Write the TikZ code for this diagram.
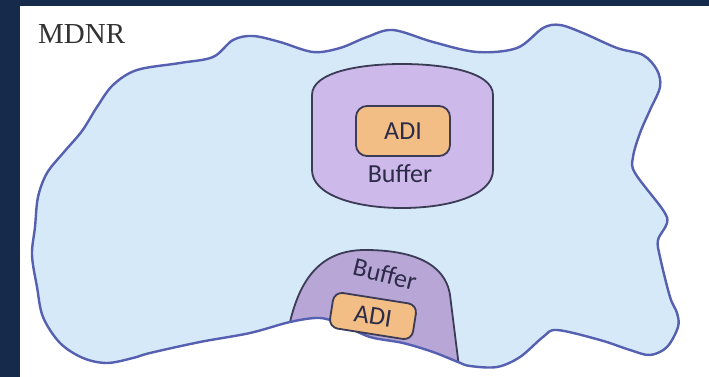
\documentclass[tikz,border=0pt]{standalone}
\usepackage{fontspec}
\setmainfont{Liberation Serif}
\newfontfamily\sff{Carlito}
\definecolor{navy}{HTML}{162B4B}
\definecolor{cloudfill}{HTML}{D5E9F8}
\definecolor{cloudline}{HTML}{5560B0}
\definecolor{buffill}{HTML}{CDB9EA}
\definecolor{buffill2}{HTML}{B8A6D6}
\definecolor{adifill}{HTML}{F3BE85}
\definecolor{darkline}{HTML}{3B3B55}
\definecolor{txt}{HTML}{2C2C48}
\tikzset{
  adibox/.style={draw=darkline, line width=1.8pt, fill=adifill, rounded corners=11pt, inner sep=0pt, font=\sff\fontsize{26}{26}\selectfont, text=txt},
  lbl/.style={font=\sff\fontsize{26}{26}\selectfont, text=txt, inner sep=0pt},
}
\def\mycloud{plot[smooth cycle, tension=0.55] coordinates{
(82,131) (97,107) (113,85) (137,70) (180,63) (213,57) (233,40) (253,36) (280,42) (313,52) (340,48) (367,37) (393,30) (433,42) (477,52) (517,48) (543,28) (560,25) (583,33) (617,48) (643,55) (657,70) (660,87) (650,110) (640,133) (633,157) (635,173) (663,210) (667,223) (658,240) (660,257) (670,297) (677,313) (678,327) (667,347) (650,355) (630,350) (600,340) (557,330) (543,337) (520,357) (497,367) (470,366) (458,362) (433,352) (403,343) (370,337) (343,325) (320,318) (290,322) (250,333) (200,342) (150,353) (133,358) (107,363) (83,358) (60,343) (43,317) (37,287) (32,255) (35,227) (38,197) (47,173) (64,152)}}
\begin{document}
\begin{tikzpicture}[x=1pt,y=-1pt]
\useasboundingbox (0,0) rectangle (709,377);
\fill[navy] (0,0) rectangle (709,377);
\fill[white] (20,6) rectangle (709,377);
% cloud
\fill[cloudfill] \mycloud;
% small buffer clipped by cloud
\begin{scope}
\clip \mycloud;
\path[fill=buffill2, draw=darkline, line width=1.8pt]
  (286,360) -- (290,322) .. controls (300,280) and (320,250) .. (365,250)
  .. controls (410,250) and (445,262) .. (450,295) -- (460,375) -- cycle;
\end{scope}
\draw[cloudline, line width=2.4pt] \mycloud;
% big buffer
\path[fill=buffill, draw=darkline, line width=1.8pt]
  (312,170) -- (312,95) .. controls (312,72) and (360,64) .. (402,64)
  .. controls (445,64) and (493,72) .. (493,95) -- (493,170)
  .. controls (493,195) and (450,208) .. (402,208)
  .. controls (355,208) and (312,195) .. (312,170) -- cycle;
\node[adibox, minimum width=94pt, minimum height=50pt] (adi1) at (403,131) {ADI};
\node[lbl] (buf1) at (400,174) {Buffer};
% small buffer contents
\node[lbl, rotate=-14] (buf2) at (385,274) {Buffer};
\node[adibox, minimum width=84pt, minimum height=36pt, rounded corners=9pt, rotate=-9] (adi2) at (373,316) {ADI};
% label
\node[anchor=west, inner sep=0pt, text=black!80, font=\fontsize{29}{29}\selectfont] (mdnr) at (38,34) {MDNR};
\end{tikzpicture}
\end{document}
